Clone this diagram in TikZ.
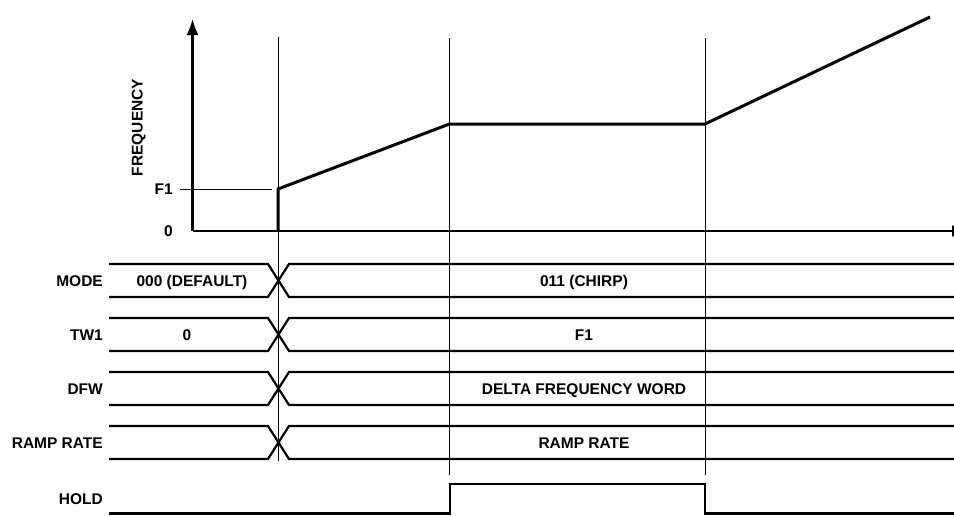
\documentclass[tikz,border=0pt]{standalone}
\usepackage{fontspec}
\setmainfont{Liberation Sans}
\usetikzlibrary{arrows.meta}

\tikzset{
  sig_lbl/.style={anchor=east,font=\fontsize{15.5}{18}\selectfont\bfseries,inner sep=0pt,text height=11.2pt,text depth=0pt},
  bus_txt/.style={font=\fontsize{15.5}{18}\selectfont\bfseries,inner sep=0pt,text height=11.2pt,text depth=0pt},
  bus_line/.style={line width=2.2pt},
  ax_line/.style={line width=2.2pt},
  fq_line/.style={line width=3pt,line join=miter},
  thin_line/.style={line width=1pt}
}

\begin{document}
\begin{tikzpicture}[x=1pt,y=-1pt,>=Latex]
\useasboundingbox (0,0) rectangle (954,515);
% axes
\coordinate (ax_o) at (192.5,231);
\coordinate (ax_top) at (192.5,19);
\coordinate (ax_end) at (968,231);
\draw[ax_line,-{Latex[length=16pt,width=12pt]}] (ax_o)--(ax_top);
\draw[ax_line,-{Latex[length=16pt,width=12pt]}] (ax_o)--(ax_end);
\node[bus_txt,rotate=90] (lbl_freq) at (137,127.5) {FREQUENCY};
\node[sig_lbl] (lbl_f1) at (173,189) {F1};
\node[sig_lbl] (lbl_zero) at (173,231) {0};
\coordinate (f1_a) at (180,189);
\coordinate (f1_b) at (272,189);
\draw[thin_line] (f1_a)--(f1_b);
% time markers
\coordinate (t1_top) at (278,37);
\coordinate (t1_bot) at (278,461);
\coordinate (t2_top) at (449.5,38);
\coordinate (t2_bot) at (449.5,475);
\coordinate (t3_top) at (705,38);
\coordinate (t3_bot) at (705,475);
\draw[thin_line] (t1_top)--(t1_bot);
\draw[thin_line] (t2_top)--(t2_bot);
\draw[thin_line] (t3_top)--(t3_bot);
% frequency curve
\coordinate (fq_a) at (278,231);
\coordinate (fq_b) at (278,189);
\coordinate (fq_c) at (449.5,124);
\coordinate (fq_d) at (705,124);
\coordinate (fq_e) at (930,17);
\draw[fq_line] (fq_a)--(fq_b)--(fq_c)--(fq_d)--(fq_e);
% signal names
\node[sig_lbl] (lbl_mode) at (103,280.5) {MODE};
\node[sig_lbl] (lbl_tw1) at (103,334.5) {TW1};
\node[sig_lbl] (lbl_dfw) at (103,388.5) {DFW};
\node[sig_lbl] (lbl_ramp) at (103,442.5) {RAMP RATE};
\node[sig_lbl] (lbl_hold) at (103,498.5) {HOLD};
% buses
\draw[bus_line] (109,264)--(268,264)--(289,297)--(960,297);
\draw[bus_line] (109,297)--(268,297)--(289,264)--(960,264);
\draw[bus_line] (109,318)--(268,318)--(289,351)--(960,351);
\draw[bus_line] (109,351)--(268,351)--(289,318)--(960,318);
\draw[bus_line] (109,372)--(268,372)--(289,405)--(960,405);
\draw[bus_line] (109,405)--(268,405)--(289,372)--(960,372);
\draw[bus_line] (109,426)--(268,426)--(289,459)--(960,459);
\draw[bus_line] (109,459)--(268,459)--(289,426)--(960,426);
\node[bus_txt] (mode_old) at (192,280.5) {000 (DEFAULT)};
\node[bus_txt] (mode_new) at (584,280.5) {011 (CHIRP)};
\node[bus_txt] (tw1_old) at (187,334.5) {0};
\node[bus_txt] (tw1_new) at (584,334.5) {F1};
\node[bus_txt] (dfw_new) at (584,388.5) {DELTA FREQUENCY WORD};
\node[bus_txt] (ramp_new) at (584,442.5) {RAMP RATE};
% hold pulse
\draw[bus_line] (109,513.5)--(450,513.5)--(450,484)--(705,484)--(705,513.5)--(960,513.5);
\end{tikzpicture}
\end{document}
